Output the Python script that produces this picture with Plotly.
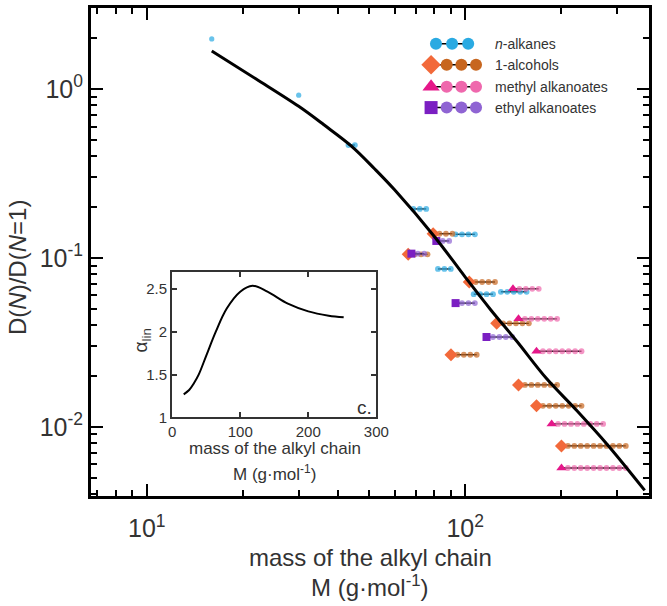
import numpy as np
import plotly.graph_objects as go

# ---------------- data ----------------
# main fitted curve  D(N)/D(N=1) vs alkyl mass
curve_M = [16, 22, 30, 36, 44, 52, 60, 80, 100, 120, 145, 180, 222, 280, 366]
curve_D = [1.68, 1.15, 0.79, 0.614, 0.458, 0.336, 0.253, 0.134, 0.077, 0.0495, 0.0322,
           0.0193, 0.0127, 0.0078, 0.0042]

# inset: local exponent alpha_lin vs mass
inset_M = [17, 25, 32, 39, 50, 64, 80, 100, 118, 140, 170, 200, 230, 252]
inset_alpha = [1.27, 1.32, 1.40, 1.50, 1.72, 2.0, 2.27, 2.47, 2.54, 2.47, 2.33, 2.24, 2.19, 2.17]

# series: mass of alkyl chain, D ratio, number of chain beads in the glyph
alkane_M = [16, 30, 44, 72, 86, 100, 114, 142]
alkane_D = [1.98, 0.92, 0.466, 0.195, 0.086, 0.138, 0.061, 0.063]
alkane_n = [1, 1, 2, 3, 3, 4, 4, 5]

alcohol_M = [71, 85, 99, 113, 141, 169, 197, 253]
alcohol_D = [0.105, 0.139, 0.0267, 0.072, 0.041, 0.0177, 0.0133, 0.0077]
alcohol_n = [3, 3, 4, 4, 5, 6, 7, 10]

methyl_M = [155, 169, 197, 225, 253]
methyl_D = [0.0656, 0.0436, 0.028, 0.0104, 0.0057]
methyl_n = [4, 6, 7, 8, 10]

ethyl_M = [71, 85, 100, 128]
ethyl_D = [0.106, 0.126, 0.054, 0.034]
ethyl_n = [2, 2, 3, 4]

legend_labels = ["<i>n</i>-alkanes", "1-alcohols", "methyl alkanoates", "ethyl alkanoates"]

x_tickvals = [10, 100]
x_ticktext = ["10<sup>1</sup>", "10<sup>2</sup>"]
y_tickvals = [1, 0.1, 0.01]
y_ticktext = ["10<sup>0</sup>", "10<sup>-1</sup>", "10<sup>-2</sup>"]

# ---------------- style ----------------
C_ALK = "#2aaae2"
C_OH_HEAD, C_OH = "#f2693a", "#c7661f"
C_ME_HEAD, C_ME = "#e5178a", "#ef68ad"
C_ET_HEAD, C_ET = "#7b1fc2", "#8f64d3"
TXT = "#333333"
FONT = "Liberation Sans, Arial, Helvetica, sans-serif"
S = 0.0202  # spacing between beads in decades of x

fig = go.Figure()


def add_glyphs(Ms, Ds, ns, bead_color, head_symbol=None, head_color=None, head_size=9):
    hx, hy, cx, cy, cs, lx, ly = [], [], [], [], [], [], []
    for M, D, n in zip(Ms, Ds, ns):
        c = np.log10(M)
        if head_symbol:
            start = c - n * S / 2
            hx.append(10 ** start)
            hy.append(D)
            xs = [10 ** (start + k * S) for k in range(1, n + 1)]
            line_x = [10 ** start] + xs
        else:
            start = c - (n - 1) * S / 2
            xs = [10 ** (start + k * S) for k in range(n)]
            line_x = xs
        cx += xs
        cy += [D] * n
        cs += [5.2 if n == 1 else 5.8] * n
        if len(line_x) > 1:
            lx += line_x + [None]
            ly += [D] * len(line_x) + [None]
    if lx:
        fig.add_trace(go.Scatter(x=lx, y=ly, mode="lines", line=dict(color="black", width=1.3),
                                 hoverinfo="skip"))
    fig.add_trace(go.Scatter(x=cx, y=cy, mode="markers",
                             marker=dict(color=bead_color, size=cs, line=dict(width=0))))
    if head_symbol:
        fig.add_trace(go.Scatter(x=hx, y=hy, mode="markers",
                                 marker=dict(color=head_color, symbol=head_symbol, size=head_size,
                                             line=dict(width=0))))


add_glyphs(alkane_M, alkane_D, alkane_n, C_ALK)
add_glyphs(alcohol_M, alcohol_D, alcohol_n, C_OH, "diamond", C_OH_HEAD, 10)
add_glyphs(methyl_M, methyl_D, methyl_n, C_ME, "triangle-up", C_ME_HEAD, 9)
add_glyphs(ethyl_M, ethyl_D, ethyl_n, C_ET, "square", C_ET_HEAD, 8)

fig.add_trace(go.Scatter(x=curve_M, y=curve_D, mode="lines",
                         line=dict(color="black", width=3, shape="spline", smoothing=1.0)))

# inset
fig.add_trace(go.Scatter(x=inset_M, y=inset_alpha, mode="lines", xaxis="x2", yaxis="y2",
                         line=dict(color="black", width=2, shape="spline")))

# ---------------- custom legend (pixel-like helper axes) ----------------
leg_rows = [42, 63, 85, 106]
leg_heads = [None, ("diamond", C_OH_HEAD, 15), ("triangle-up", C_ME_HEAD, 15), ("square", C_ET_HEAD, 13)]
leg_beads = [C_ALK, C_OH, C_ME, C_ET]
for yrow, head, bead in zip(leg_rows, leg_heads, leg_beads):
    if head is None:
        bx = [444, 460.5, 477]
        lx = bx
    else:
        bx = [455, 470, 485]
        lx = [439] + bx
    fig.add_trace(go.Scatter(x=lx, y=[yrow] * len(lx), mode="lines", xaxis="x3", yaxis="y3",
                             line=dict(color="black", width=1.5)))
    fig.add_trace(go.Scatter(x=bx, y=[yrow] * 3, mode="markers", xaxis="x3", yaxis="y3",
                             marker=dict(color=bead, size=12, line=dict(width=0))))
    if head is not None:
        fig.add_trace(go.Scatter(x=[439], y=[yrow], mode="markers", xaxis="x3", yaxis="y3",
                                 marker=dict(color=head[1], symbol=head[0], size=head[2],
                                             line=dict(width=0))))

annotations = []
for yrow, lab in zip(leg_rows, legend_labels):
    annotations.append(dict(x=502, y=yrow, xref="x3", yref="y3", text=lab, showarrow=False,
                            xanchor="left", yanchor="middle", font=dict(size=14, color=TXT)))


def ann(x, y, text, size, angle=0, xshift=0, yshift=0):
    return dict(x=x, y=y, xref="paper", yref="paper", text=text, showarrow=False,
                xanchor="center", yanchor="middle", textangle=angle,
                xshift=xshift, yshift=yshift, font=dict(size=size, color=TXT))


annotations += [
    ann(0, 0.4673, "D(<i>N</i>)/D(<i>N</i>=1)", 24, angle=-90, xshift=-73),
    ann(0.5, 0, "mass of the alkyl chain", 24, yshift=-61),
    ann(0.5, 0, "M (g·mol<sup>-1</sup>)", 24, yshift=-90),
    ann(0.3292, 0.098, "mass of the alkyl chain", 17),
    ann(0.3292, 0.0469, "M (g·mol<sup>-1</sup>)", 17),
    ann(0.0911, 0.3184, "α<sub>lin</sub>", 19, angle=-90),
    ann(0.4904, 0.1816, "c.", 19),
]

x_minor = [7, 8, 9, 20, 30, 40, 50, 60, 70, 80, 90, 200, 300]
y_minor = [3, 2, 0.9, 0.8, 0.7, 0.6, 0.5, 0.4, 0.3, 0.2,
           0.09, 0.08, 0.07, 0.06, 0.05, 0.04, 0.03, 0.02,
           0.009, 0.008, 0.007, 0.006, 0.005, 0.004]

fig.update_layout(
    width=667, height=606,
    margin=dict(l=91, r=5, t=6, b=110),
    paper_bgcolor="white", plot_bgcolor="rgba(0,0,0,0)",
    showlegend=False,
    font=dict(family=FONT, color=TXT),
    annotations=annotations,
    xaxis=dict(type="log", range=[0.825, 2.577], domain=[0, 1], anchor="y",
               tickvals=x_tickvals, ticktext=x_ticktext, tickfont=dict(size=25, color=TXT),
               ticks="inside", ticklen=12, tickwidth=2, tickcolor="black",
               showline=True, linewidth=3, linecolor="black", mirror="allticks",
               showgrid=False, zeroline=False, ticklabelstandoff=8,
               minor=dict(tickvals=x_minor, ticks="inside", ticklen=6, tickwidth=2,
                          tickcolor="black", showgrid=False)),
    yaxis=dict(type="log", range=[-2.41, 0.48], domain=[0, 1], anchor="x",
               tickvals=y_tickvals, ticktext=y_ticktext, tickfont=dict(size=25, color=TXT),
               ticks="inside", ticklen=12, tickwidth=2, tickcolor="black",
               showline=True, linewidth=3, linecolor="black", mirror="allticks",
               showgrid=False, zeroline=False,
               minor=dict(tickvals=y_minor, ticks="inside", ticklen=6, tickwidth=2,
                          tickcolor="black", showgrid=False)),
    xaxis2=dict(range=[0, 300], domain=[0.1454, 0.5114], anchor="y2",
                tickvals=[0, 100, 200, 300], tickfont=dict(size=15, color=TXT),
                ticks="inside", ticklen=5, tickwidth=1.5, tickcolor="#333",
                showline=True, linewidth=2, linecolor="#333", mirror="allticks",
                showgrid=False, zeroline=False),
    yaxis2=dict(range=[1, 2.7], domain=[0.161, 0.459], anchor="x2",
                tickvals=[1, 1.5, 2, 2.5], ticktext=["1", "1.5", "2", "2.5"],
                tickfont=dict(size=15, color=TXT),
                ticks="inside", ticklen=5, tickwidth=1.5, tickcolor="#333",
                showline=True, linewidth=2, linecolor="#333", mirror="allticks",
                showgrid=False, zeroline=False),
    xaxis3=dict(range=[91, 662], domain=[0, 1], anchor="y3", visible=False, fixedrange=True),
    yaxis3=dict(range=[496, 6], domain=[0, 1], anchor="x3", visible=False, fixedrange=True),
)

fig.write_html("out.html")
